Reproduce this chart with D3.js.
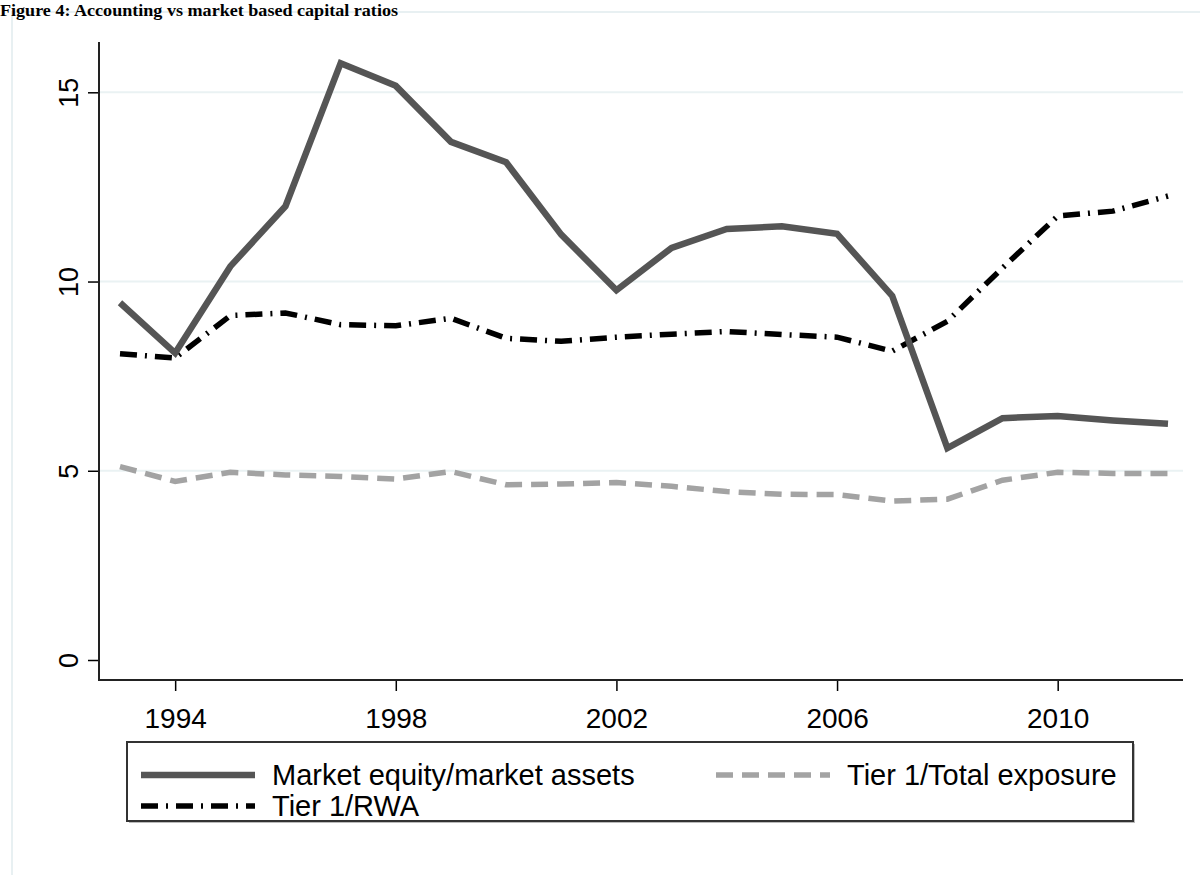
<!DOCTYPE html>
<html>
<head>
<meta charset="utf-8">
<script src="https://cdn.jsdelivr.net/npm/d3@7"></script>
<style>
  html, body { margin: 0; padding: 0; background: #ffffff; }
  svg { display: block; }
</style>
</head>
<body>
<svg id="chart" width="1200" height="875"></svg>
<script>
// Capital ratios of the banking sector, 1993-2012 (percent)
const years = [1993, 1994, 1995, 1996, 1997, 1998, 1999, 2000, 2001, 2002,
               2003, 2004, 2005, 2006, 2007, 2008, 2009, 2010, 2011, 2012];
const marketEquity = [9.44, 8.11, 10.4, 11.99, 15.77, 15.17, 13.69, 13.15, 11.24, 9.77,
                      10.89, 11.39, 11.46, 11.26, 9.62, 5.6, 6.39, 6.45, 6.33, 6.24];
const tier1RWA = [8.09, 7.98, 9.1, 9.17, 8.86, 8.83, 9.03, 8.5, 8.42, 8.53,
                  8.61, 8.68, 8.6, 8.53, 8.16, 8.95, 10.36, 11.73, 11.86, 12.26];
const tier1Exposure = [5.11, 4.72, 4.96, 4.89, 4.85, 4.78, 4.98, 4.63, 4.65, 4.69,
                       4.59, 4.45, 4.38, 4.37, 4.2, 4.25, 4.75, 4.96, 4.93, 4.93];
const xTicks = [1994, 1998, 2002, 2006, 2010];
const yTicks = [0, 5, 10, 15];
const seriesNames = ["Market equity/market assets", "Tier 1/Total exposure", "Tier 1/RWA"];

const svg = d3.select("#chart");
const sans = "'Liberation Sans', Arial, sans-serif";

// Graph region outline
svg.append("rect")
  .attr("x", 12).attr("y", 12)
  .attr("width", 1200).attr("height", 900)
  .attr("fill", "#fff")
  .attr("stroke", "#e8f0f2").attr("stroke-width", 2);

// Caption
svg.append("text")
  .attr("x", 0).attr("y", 15.5)
  .attr("font-family", "'Liberation Serif', 'Times New Roman', serif")
  .attr("font-weight", "bold")
  .attr("font-size", 17)
  .attr("textLength", 398)
  .attr("lengthAdjust", "spacingAndGlyphs")
  .attr("fill", "#000")
  .text("Figure 4: Accounting vs market based capital ratios");

// Plot region bounds
const plot = { left: 99, right: 1183, top: 42, bottom: 680 };

const x = d3.scaleLinear().domain([1993, 2012]).range([120, 1168]);
const y = d3.scaleLinear().domain([0, 15]).range([660, 92.3]);

// Horizontal grid lines
svg.append("g")
  .selectAll("line")
  .data(yTicks.filter(d => d > 0))
  .join("line")
  .attr("x1", plot.left).attr("x2", plot.right)
  .attr("y1", d => y(d)).attr("y2", d => y(d))
  .attr("stroke", "#eaf2f3").attr("stroke-width", 2);

// Y axis (labels rotated, reading upward)
const yAxis = svg.append("g")
  .attr("transform", `translate(${plot.left},0)`)
  .call(d3.axisLeft(y).tickValues(yTicks).tickSize(11).tickFormat(d3.format("d")));
yAxis.select(".domain").remove();
yAxis.selectAll(".tick line").attr("stroke", "#000").attr("stroke-width", 1.5);
yAxis.selectAll(".tick text")
  .attr("font-family", sans).attr("font-size", 27).attr("fill", "#000")
  .attr("text-anchor", "middle")
  .attr("dy", 0)
  .attr("x", 0).attr("y", 0)
  .attr("transform", "translate(-21,0) rotate(-90)");

// X axis
const xAxis = svg.append("g")
  .attr("transform", `translate(0,${plot.bottom})`)
  .call(d3.axisBottom(x).tickValues(xTicks).tickSize(11).tickPadding(17).tickFormat(d3.format("d")));
xAxis.select(".domain").remove();
xAxis.selectAll(".tick line").attr("stroke", "#000").attr("stroke-width", 1.5);
xAxis.selectAll(".tick text")
  .attr("font-family", sans).attr("font-size", 28).attr("fill", "#000");

// Axis lines
svg.append("line")
  .attr("x1", plot.left).attr("x2", plot.left)
  .attr("y1", plot.top).attr("y2", plot.bottom + 1)
  .attr("stroke", "#222").attr("stroke-width", 2);
svg.append("line")
  .attr("x1", plot.left).attr("x2", plot.right)
  .attr("y1", plot.bottom).attr("y2", plot.bottom)
  .attr("stroke", "#222").attr("stroke-width", 2);

// Series styles
const styles = [
  { values: marketEquity, color: "#555555", width: 6.5, dash: null },
  { values: tier1Exposure, color: "#a3a3a3", width: 5.5, dash: "17,9" },
  { values: tier1RWA, color: "#000000", width: 5.5, dash: "17,8,2,8" }
];

const line = d3.line()
  .x((d, i) => x(years[i]))
  .y(d => y(d));

// Exposure first, then RWA, then market equity on top
[1, 2, 0].forEach(k => {
  const s = styles[k];
  svg.append("path")
    .datum(s.values)
    .attr("d", line)
    .attr("fill", "none")
    .attr("stroke", s.color)
    .attr("stroke-width", s.width)
    .attr("stroke-linejoin", "miter")
    .attr("stroke-linecap", "butt")
    .attr("stroke-dasharray", s.dash);
});

// Legend
const legend = svg.append("g");
legend.append("rect")
  .attr("x", 129).attr("y", 744)
  .attr("width", 1006).attr("height", 79)
  .attr("fill", "#bbb");
legend.append("rect")
  .attr("x", 127).attr("y", 742)
  .attr("width", 1006).attr("height", 79)
  .attr("fill", "#fff")
  .attr("stroke", "#333").attr("stroke-width", 2);

const legendItems = [
  { s: styles[0], name: seriesNames[0], lx: 141, ty: 775 },
  { s: styles[1], name: seriesNames[1], lx: 716, ty: 775 },
  { s: styles[2], name: seriesNames[2], lx: 141, ty: 806 }
];
legendItems.forEach(it => {
  legend.append("line")
    .attr("x1", it.lx).attr("x2", it.lx + 114)
    .attr("y1", it.ty).attr("y2", it.ty)
    .attr("stroke", it.s.color)
    .attr("stroke-width", it.s.width)
    .attr("stroke-dasharray", it.s.dash);
  legend.append("text")
    .attr("x", it.lx + 131).attr("y", it.ty + 10)
    .attr("font-family", sans).attr("font-size", 29)
    .attr("fill", "#000")
    .text(it.name);
});
</script>
</body>
</html>
